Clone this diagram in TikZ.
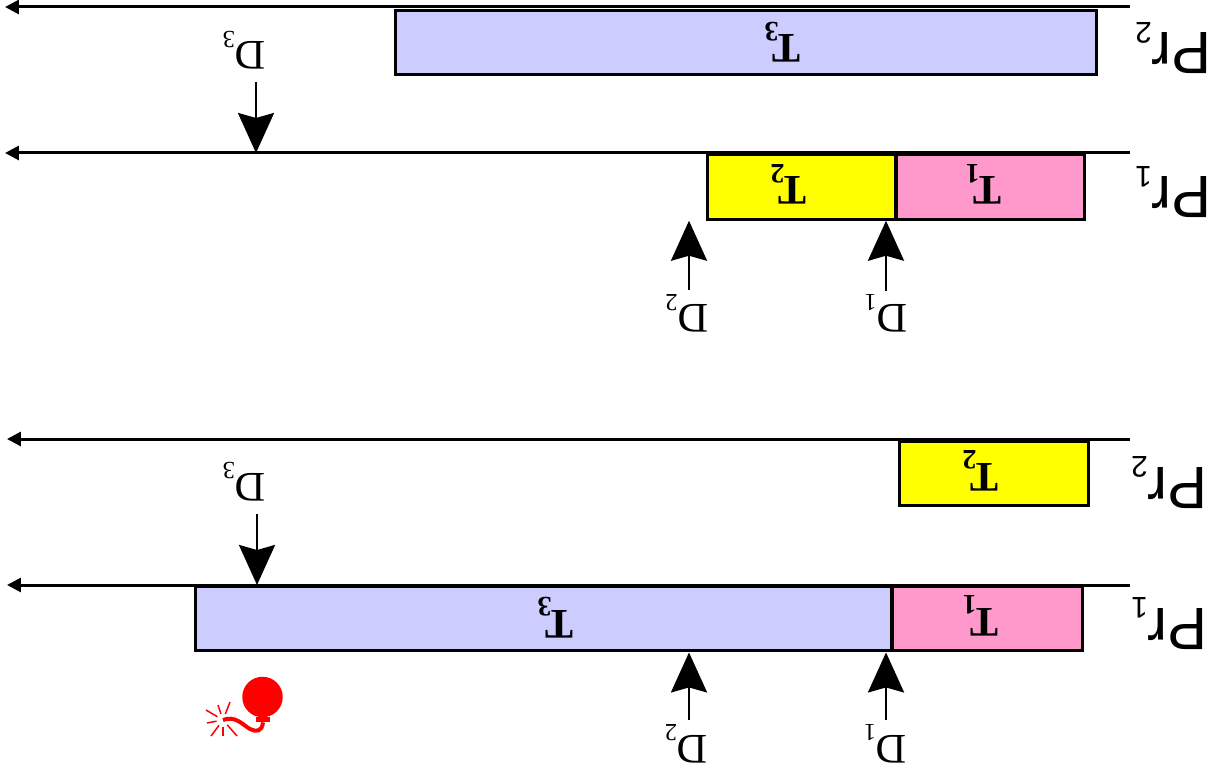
\documentclass[tikz,border=0pt]{standalone}
\usepackage{fontspec}
\setmainfont{Liberation Serif}
\setsansfont{Liberation Sans}
\usepackage{pgf, tikz}
\usetikzlibrary{arrows.meta}
\pgfdeclarelayer{edgelayer}
\pgfdeclarelayer{nodelayer}
\pgfsetlayers{edgelayer,nodelayer,main}
\definecolor{taskblue}{RGB}{204,204,255}
\definecolor{taskyellow}{RGB}{255,255,0}
\definecolor{taskpink}{RGB}{255,153,204}
\newcommand{\tsub}[1]{\kern-3.4pt\raisebox{-7pt}{\fontsize{16}{16}\selectfont #1}}
\newcommand{\dsub}[1]{\raisebox{-5.8pt}{\fontsize{14}{14}\selectfont #1}}
\newcommand{\prsub}[1]{\raisebox{-5.7pt}{\fontsize{17}{17}\selectfont #1}}
\tikzstyle{task}=[draw=black, line width=0.06cm, inner sep=0, minimum height=1.29cm]
\tikzstyle{tasklabel}=[rotate=180, anchor=base west, inner sep=0, font=\fontsize{24}{24}\selectfont\bfseries]
\tikzstyle{deadline}=[rotate=180, anchor=base west, inner sep=0, font=\fontsize{24}{24}\selectfont]
\tikzstyle{proc}=[rotate=180, anchor=base west, inner sep=0, font=\fontsize{34}{34}\selectfont\sffamily]
\tikzstyle{timeline}=[draw=black, line width=0.06cm, -{Stealth[length=0.28cm, width=0.28cm, inset=0pt]}]
\tikzstyle{release}=[draw=black, line width=0.055cm, -{Stealth[length=0.8cm, width=0.72cm, inset=0.1cm]}]
\begin{document}
\begin{tikzpicture}[x=0.02cm, y=-0.02cm]
	\useasboundingbox (0, 0) rectangle (1213, 773);
	\begin{pgfonlayer}{nodelayer}
		% upper schedule
		\node [style=task, fill=taskblue, minimum width=14.04cm] (T3up) at (746, 42.7) {};
		\node [style=task, fill=taskyellow, minimum width=3.78cm] (T2up) at (801.5, 187) {};
		\node [style=task, fill=taskpink, minimum width=3.78cm] (T1up) at (990.5, 187) {};
		\node [style=tasklabel] (L3up) at (801, 35) {T\tsub{3}};
		\node [style=tasklabel] (L2up) at (807, 177) {T\tsub{2}};
		\node [style=tasklabel] (L1up) at (1002, 177) {T\tsub{1}};
		\node [style=proc] (P2up) at (1212, 33) {Pr\prsub{2}};
		\node [style=proc] (P1up) at (1212, 177) {Pr\prsub{1}};
		\node [style=deadline] (D3up) at (266, 42) {D\dsub{3}};
		\node [style=deadline] (D2up) at (708.5, 305) {D\dsub{2}};
		\node [style=deadline] (D1up) at (907.5, 305) {D\dsub{1}};
		% lower schedule
		\node [style=task, fill=taskyellow, minimum width=3.78cm] (T2low) at (993.7, 473.5) {};
		\node [style=task, fill=taskblue, minimum width=13.94cm] (T3low) at (543.5, 618.7) {};
		\node [style=task, fill=taskpink, minimum width=3.79cm] (T1low) at (987.3, 618.7) {};
		\node [style=tasklabel] (L2low) at (999, 463) {T\tsub{2}};
		\node [style=tasklabel] (L3low) at (574, 610) {T\tsub{3}};
		\node [style=tasklabel] (L1low) at (999, 608) {T\tsub{1}};
		\node [style=proc] (P2low) at (1208, 467) {Pr\prsub{2}};
		\node [style=proc] (P1low) at (1208, 608) {Pr\prsub{1}};
		\node [style=deadline] (D3low) at (266, 473) {D\dsub{3}};
		\node [style=deadline] (D2low) at (708, 735) {D\dsub{2}};
		\node [style=deadline] (D1low) at (907, 735) {D\dsub{1}};
		% bomb
		\node [circle, fill=red, inner sep=0, minimum size=0.81cm] (bomb) at (262.5, 697) {};
		\node [fill=red, inner sep=0, minimum width=0.28cm, minimum height=0.1cm] (neck) at (263, 719.5) {};
	\end{pgfonlayer}
	\begin{pgfonlayer}{edgelayer}
		\coordinate (a2up) at (1130, 7);
		\coordinate (b2up) at (5, 7);
		\coordinate (a1up) at (1130, 153);
		\coordinate (b1up) at (5, 153);
		\coordinate (a2low) at (1130, 439);
		\coordinate (b2low) at (7, 439);
		\coordinate (a1low) at (1130, 585);
		\coordinate (b1low) at (7, 585);
		\draw [style=timeline] (a2up) to (b2up);
		\draw [style=timeline] (a1up) to (b1up);
		\draw [style=timeline] (a2low) to (b2low);
		\draw [style=timeline] (a1low) to (b1low);
		\coordinate (r3up) at (256, 82);
		\coordinate (r2up) at (689, 290);
		\coordinate (r1up) at (886, 291);
		\coordinate (r3low) at (257, 514);
		\coordinate (r2low) at (689, 720);
		\coordinate (r1low) at (886, 720);
		\draw [style=release] (r3up) to (r3up |- a1up);
		\draw [style=release] (r2up) to (r2up |- T2up.south);
		\draw [style=release] (r1up) to (r1up |- T2up.south);
		\draw [style=release] (r3low) to (r3low |- a1low);
		\draw [style=release] (r2low) to (r2low |- T3low.south);
		\draw [style=release] (r1low) to (r1low |- T3low.south);
		\coordinate (spark) at (223, 720);
		\draw [draw=red, line width=0.08cm] (neck.south) .. controls (262, 732) and (256, 732) .. (250, 729) .. controls (243, 725) and (235, 715) .. (spark);
		\foreach \x/\y in {230/702, 218/705, 206/710, 207/723, 211/736, 223/736, 237/736}
			\draw [draw=red, line width=0.03cm, shorten <=0.13cm] (spark) to (\x, \y);
	\end{pgfonlayer}
\end{tikzpicture}
\end{document}
